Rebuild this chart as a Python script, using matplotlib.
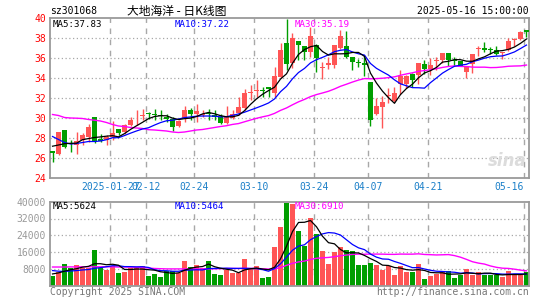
import numpy as np
import pandas as pd
import matplotlib
matplotlib.use("Agg")
import matplotlib.pyplot as plt

# ---------------- data ----------------
holidays = ["2025-01-28", "2025-01-29", "2025-01-30", "2025-01-31", "2025-02-03",
            "2025-02-04", "2025-04-04", "2025-05-01", "2025-05-02", "2025-05-05"]
dates = [d for d in pd.bdate_range("2025-01-13", "2025-05-16").strftime("%Y-%m-%d")
         if d not in holidays]

opens = [26.63, 26.40, 28.73, 27.50, 27.30, 27.80, 28.10, 30.05, 27.80, 27.75,
         28.07, 28.83, 28.57, 29.23, 29.83, 30.17, 30.50, 30.33, 30.23, 30.05,
         29.90, 29.17, 30.00, 30.73, 30.33, 30.30, 30.45, 30.25, 30.05, 29.45,
         30.00, 30.50, 31.00, 32.45, 32.65, 32.75, 33.07, 32.50, 34.10, 37.45,
         35.50, 37.63, 37.13, 36.60, 37.20, 34.95, 35.25, 35.23, 37.00, 37.13,
         36.05, 35.55, 35.45, 33.57, 30.33, 31.07, 32.15, 31.70, 33.40, 33.40,
         34.40, 34.30, 35.35, 34.90, 35.67, 35.80, 36.40, 35.75, 35.67, 34.57,
         35.40, 36.83, 37.00, 36.90, 36.73, 36.47, 36.73, 37.73, 37.90, 38.80]
highs = [26.65, 28.55, 28.75, 27.75, 28.60, 28.50, 29.40, 30.10, 28.35, 28.25,
         29.70, 28.85, 29.33, 30.07, 30.73, 30.90, 30.53, 30.90, 30.75, 30.35,
         30.07, 29.73, 31.15, 31.00, 31.40, 30.80, 30.83, 30.73, 30.40, 31.17,
         30.73, 32.07, 32.90, 33.25, 33.80, 33.10, 33.10, 35.10, 37.50, 39.90,
         38.45, 37.65, 37.20, 39.10, 37.40, 35.60, 36.10, 37.30, 38.75, 38.70,
         36.10, 35.90, 36.20, 33.60, 31.95, 32.20, 33.00, 33.10, 34.75, 34.30,
         34.45, 35.40, 35.75, 35.95, 36.10, 36.50, 36.40, 36.10, 35.70, 35.10,
         36.40, 37.20, 37.60, 37.10, 37.20, 36.60, 38.00, 38.00, 38.70, 38.80]
lows = [25.60, 26.25, 27.00, 26.60, 26.40, 27.25, 27.60, 27.50, 27.55, 27.25,
        27.80, 28.25, 28.40, 29.13, 29.23, 29.73, 29.85, 29.80, 29.75, 29.57,
        28.65, 29.07, 29.57, 29.80, 29.57, 30.07, 29.73, 29.73, 29.33, 29.40,
        29.90, 30.30, 30.80, 31.80, 32.10, 32.10, 32.10, 32.10, 34.00, 34.80,
        35.00, 35.73, 35.73, 36.10, 34.60, 33.90, 34.90, 35.00, 36.90, 36.00,
        34.73, 35.10, 34.20, 29.20, 30.30, 29.00, 31.50, 31.60, 32.40, 33.00,
        33.05, 33.40, 34.40, 34.30, 34.80, 35.50, 35.20, 35.20, 35.15, 34.00,
        34.50, 36.20, 36.55, 36.40, 36.25, 35.90, 36.70, 37.20, 37.80, 38.05]
closes = [26.50, 28.53, 27.07, 27.35, 27.70, 28.25, 29.10, 27.60, 27.65, 28.07,
          28.50, 28.50, 29.23, 29.73, 29.90, 30.23, 30.35, 30.28, 30.13, 29.87,
          29.07, 29.63, 30.73, 30.40, 30.63, 30.40, 30.35, 30.10, 29.45, 30.05,
          30.40, 31.05, 32.45, 32.60, 32.80, 32.70, 32.90, 34.13, 36.70, 35.40,
          38.00, 37.30, 36.57, 38.13, 36.00, 35.00, 35.50, 37.23, 38.10, 36.10,
          35.60, 35.50, 35.25, 29.73, 31.13, 31.57, 32.20, 32.47, 34.10, 34.15,
          33.75, 35.40, 34.85, 35.25, 35.80, 36.40, 35.80, 35.70, 35.20, 35.07,
          36.33, 37.00, 36.73, 36.75, 36.40, 36.57, 37.63, 37.90, 38.57, 38.57]
volumes = [4800, 6560, 10560, 8480, 10080, 8480, 8480, 16800, 8480, 7680,
           9600, 6240, 6720, 8320, 8800, 9440, 4800, 5760, 4320, 7200,
           7200, 6080, 12000, 8960, 10080, 8480, 12000, 5760, 5280, 7680,
           6240, 5920, 12480, 8000, 9440, 3840, 4320, 18240, 28000, 39520,
           38880, 25920, 18720, 32160, 24640, 16320, 10560, 16000, 18560, 16800,
           16500, 10080, 10080, 11000, 10080, 7680, 9280, 5280, 9600, 6400,
           6400, 10560, 3360, 4800, 5600, 6400, 7200, 3680, 5280, 8160,
           5200, 6300, 5000, 5200, 5000, 4200, 7100, 5100, 5200, 6500]

# moving-average values before enough history is visible
ma5_head = [27.13, 27.25, 27.38, 27.42]
ma10_head = [28.10, 27.80, 27.50, 27.35, 27.40, 27.50, 27.60, 27.60, 27.65]
ma30_head = [30.30, 30.20, 30.00, 29.95, 29.93, 29.90, 29.80, 29.73, 29.65, 29.50,
             29.30, 29.15, 29.10, 29.00, 28.95, 28.90, 28.78, 28.75, 28.70, 28.65,
             28.55, 28.50, 28.55, 28.65, 28.75, 28.80, 28.90, 29.00, 29.10]
vma5_head = [5600, 6100, 6900, 7600]
vma10_head = [7200, 6900, 6800, 7000, 7200, 7500, 7700, 8300, 8600]
vma30_head = [8900, 8900, 8900, 8950, 8950, 9000, 9000, 9000, 9000, 9000,
              8950, 8900, 8900, 8850, 8800, 8700, 8400, 8200, 8100, 8000,
              8000, 8000, 8000, 8000, 8000, 8000, 8000, 8050, 8100]

tick_dates = ["2025-01-27", "2025-02-12", "2025-02-24", "2025-03-10",
              "2025-03-24", "2025-04-07", "2025-04-21", "2025-05-16"]
tick_labels = ["2025-01-27", "02-12", "02-24", "03-10", "03-24", "04-07", "04-21", "05-16"]
price_ticks = [24, 26, 28, 30, 32, 34, 36, 38, 40]
vol_ticks = [8000, 16000, 24000, 32000, 40000]

title_code = "sz301068"
title_name = "大地海洋 - 日K线图"
title_time = "2025-05-16 15:00:00"
ma_price_text = ["MA5:37.83", "MA10:37.22", "MA30:35.19"]
ma_vol_text = ["MA5:5624", "MA10:5464", "MA30:6910"]

# ---------------- helpers ----------------
def rolling_with_head(vals, n, head):
    s = pd.Series(vals, dtype=float).rolling(n).mean()
    s.iloc[:len(head)] = head
    return s.values

ma5 = rolling_with_head(closes, 5, ma5_head)
ma10 = rolling_with_head(closes, 10, ma10_head)
ma30 = rolling_with_head(closes, 30, ma30_head)
vma5 = rolling_with_head(volumes, 5, vma5_head)
vma10 = rolling_with_head(volumes, 10, vma10_head)
vma30 = rolling_with_head(volumes, 30, vma30_head)

W, H = 545, 300
def fx(px):
    return px / W
def fy(py):
    return 1 - py / H

RED = "#ff5555"
GREEN = "#009e00"
GRID = "#a8a8a8"
BORDER = "#9a9a9a"
MONO = "DejaVu Sans Mono"

fig = plt.figure(figsize=(W / 100, H / 100), dpi=100)
fig.patch.set_facecolor("white")

top_p, bot_p = 17.5, 177.5
ax1 = fig.add_axes([fx(50), fy(bot_p), 479 / W, (bot_p - top_p) / H])
top_v, bot_v = 201.7, 285.7
ax2 = fig.add_axes([fx(50), fy(bot_v), 479 / W, (bot_v - top_v) / H])

x = np.arange(len(dates))
o = np.array(opens); c = np.array(closes); h = np.array(highs); l = np.array(lows)
up = c >= o
colors = np.where(up, RED, GREEN)

grid_x = [dates.index(d) - 0.38 for d in tick_dates]

for ax in (ax1, ax2):
    ax.set_xlim(-0.42, len(dates) - 1 + 0.42)
    for gx in grid_x:
        ax.axvline(gx, color=GRID, lw=1.0, ls=(0, (4, 4)), zorder=0)
    for sp in ax.spines.values():
        sp.set_color(BORDER)
        sp.set_linewidth(1.3)
    ax.tick_params(length=0)

# price panel
ax1.set_ylim(24, 40)
for yv in price_ticks[1:-1]:
    ax1.axhline(yv, color=GRID, lw=0.9, ls=(0, (1, 2)), zorder=0)
ax1.vlines(x, l, h, colors=colors, lw=1.0, zorder=2)
body_h = np.maximum(np.abs(c - o), 0.07)
ax1.bar(x, body_h, bottom=np.minimum(o, c), width=0.82, color=colors, lw=0, zorder=3)
ax1.plot(x, ma30, color="#ff00ff", lw=1.0, zorder=4)
ax1.plot(x, ma10, color="#0000ff", lw=0.9, zorder=5)
ax1.plot(x, ma5, color="black", lw=0.9, zorder=6)
ax1.set_yticks(price_ticks)
ax1.set_yticklabels([str(t) for t in price_ticks], color="red", fontsize=7, family=MONO)
ax1.set_xticks(grid_x)
ax1.set_xticklabels(tick_labels, color="#1a7fc8", fontsize=7, family=MONO)
xt = ax1.get_xticklabels()
xt[-1].set_horizontalalignment("right")
ax1.tick_params(axis="y", pad=3)
ax1.tick_params(axis="x", pad=3)

# watermark
ax1.text(0.955, 0.1, "sina", transform=ax1.transAxes, ha="center", va="center",
         fontsize=12, fontweight="bold", style="italic", color="#dcdcdc", zorder=1)

# volume panel
ax2.set_ylim(0, 40000)
for yv in vol_ticks[:-1]:
    ax2.axhline(yv, color=GRID, lw=0.9, ls=(0, (1, 2)), zorder=0)
ax2.bar(x, volumes, width=0.85, color=colors, lw=0, zorder=2)
ax2.plot(x, vma30, color="#ff00ff", lw=1.0, zorder=4)
ax2.plot(x, vma10, color="#0000ff", lw=0.9, zorder=5)
ax2.plot(x, vma5, color="black", lw=0.9, zorder=6)
ax2.set_yticks(vol_ticks)
ax2.set_yticklabels([str(t) for t in vol_ticks], color="#999999", fontsize=7, family=MONO)
ax2.tick_params(axis="y", pad=3)
ax2.set_xticks([])

# texts
fig.text(fx(50), fy(11), title_code, fontsize=7, family=MONO, va="center", ha="left")
fig.text(fx(177), fy(11), title_name, fontsize=8.5,
         family=["Noto Sans CJK SC", "DejaVu Sans"], va="center", ha="center")
fig.text(fx(529), fy(11), title_time, fontsize=7, family=MONO, va="center", ha="right")

ma_cols = ["black", "#0000ff", "#ff00ff"]
ma_x = [53, 175, 295]
for t, col, px in zip(ma_price_text, ma_cols, ma_x):
    fig.text(fx(px), fy(24.5), t, color=col, fontsize=6.6, family=MONO, va="center", ha="left", zorder=10)
for t, col, px in zip(ma_vol_text, ma_cols, ma_x):
    fig.text(fx(px), fy(206.5), t, color=col, fontsize=6.6, family=MONO, va="center", ha="left", zorder=10)

fig.text(fx(50), fy(292), "Copyright 2025 SINA.COM", color="#777777", fontsize=7,
         family=MONO, va="center", ha="left")
fig.text(fx(529), fy(292), "http://finance.sina.com.cn", color="#777777", fontsize=7,
         family=MONO, va="center", ha="right")

fig.savefig("out.png", dpi=100)
